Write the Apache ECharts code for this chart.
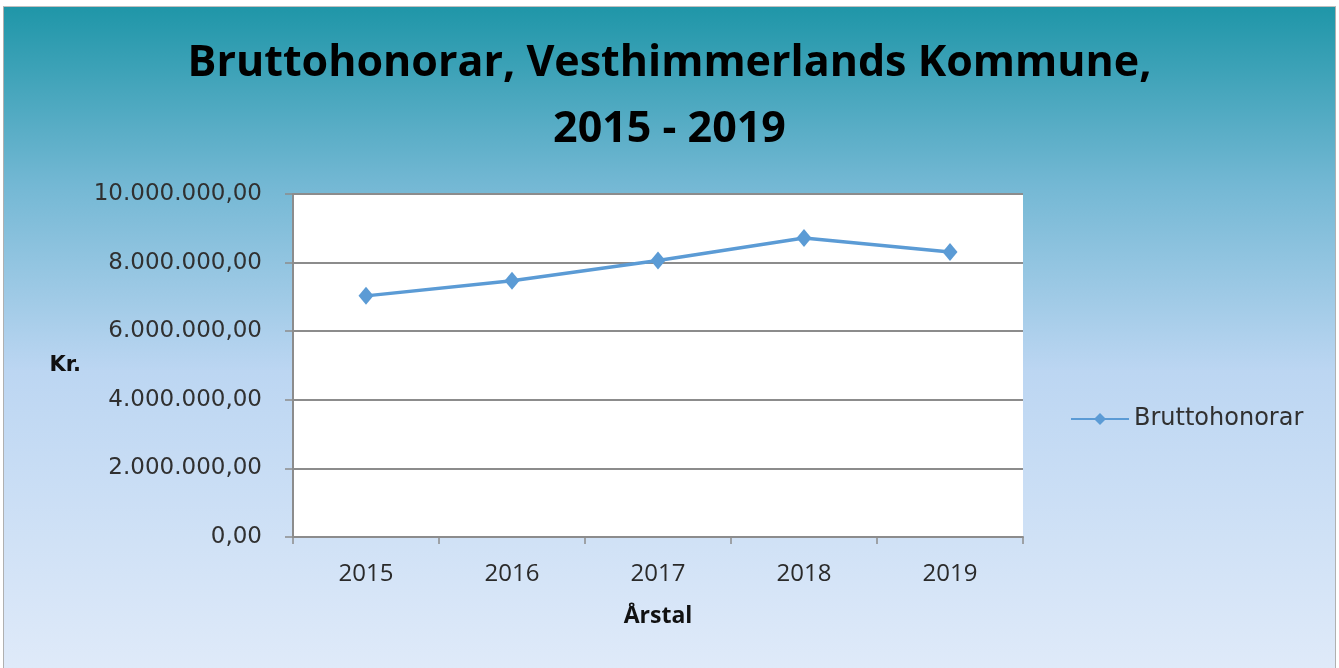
<!DOCTYPE html>
<html>
<head>
<meta charset="utf-8">
<script src="https://cdn.jsdelivr.net/npm/echarts@6/dist/echarts.min.js"></script>
<style>
  html, body { margin: 0; padding: 0; background: #fff; }
  #chart { position: absolute; left: 3px; top: 6px; width: 1331px; height: 662px; border-left: 1px solid #b0b0b0; border-right: 1px solid #b0b0b0; border-top: 1px solid #c0c0c0; }
</style>
</head>
<body>
<div id="chart"></div>
<script>
const years = ['2015', '2016', '2017', '2018', '2019']
const bruttohonorar = [7030000, 7470000, 8060000, 8720000, 8310000]
const yTicks = [0, 2000000, 4000000, 6000000, 8000000, 10000000]

function formatKr(v) {
  const whole = Math.round(v).toString().replace(/\B(?=(\d{3})+(?!\d))/g, '.')
  return whole + ',00'
}

const chart = echarts.init(document.getElementById('chart'))
const option = {
  backgroundColor: {
    type: 'linear', x: 0, y: 0, x2: 0, y2: 1,
    colorStops: [
      { offset: 0, color: '#1f96a8' },
      { offset: 0.27, color: '#74b8d4' },
      { offset: 0.55, color: '#bcd6f2' },
      { offset: 1, color: '#dfeaf9' }
    ]
  },
  textStyle: { fontFamily: 'DejaVu Sans, sans-serif' },
  title: {
    text: 'Bruttohonorar, Vesthimmerlands Kommune,\n2015 - 2019',
    left: 'center',
    top: 19,
    textStyle: {
      fontFamily: 'Open Sans, Noto Sans, sans-serif',
      fontSize: 43,
      fontWeight: 'bold',
      color: '#000',
      lineHeight: 66
    }
  },
  legend: {
    data: ['Bruttohonorar'],
    orient: 'vertical',
    left: 1061,
    top: 395,
    itemWidth: 58,
    itemHeight: 15,
    itemGap: 8,
    textStyle: { fontSize: 24, color: '#303030', fontFamily: 'DejaVu Sans, sans-serif' }
  },
  grid: {
    left: 289,
    top: 187,
    width: 730,
    height: 343,
    show: true,
    backgroundColor: '#fff',
    borderWidth: 0
  },
  xAxis: {
    type: 'category',
    data: years,
    boundaryGap: true,
    name: 'Årstal',
    nameLocation: 'middle',
    nameGap: 68,
    nameTextStyle: { fontSize: 23, fontWeight: 'bold', color: '#111', fontFamily: 'Open Sans, sans-serif' },
    axisLine: { lineStyle: { color: '#8c8c8c', width: 2 } },
    axisTick: { show: true, inside: false, length: 7, lineStyle: { color: '#8c8c8c', width: 1.5 } },
    axisLabel: { fontSize: 24, color: '#2a2a2a', margin: 25, fontFamily: 'Open Sans, sans-serif' },
    splitLine: { show: false }
  },
  yAxis: {
    type: 'value',
    min: 0,
    max: 10000000,
    interval: 2000000,
    name: 'Kr.',
    nameLocation: 'middle',
    nameRotate: 0,
    nameGap: 212,
    nameTextStyle: { fontSize: 21, fontWeight: 'bold', color: '#111' },
    axisLine: { show: true, lineStyle: { color: '#8c8c8c', width: 2 } },
    axisTick: { show: true, inside: false, length: 8, lineStyle: { color: '#8c8c8c', width: 1.5 } },
    axisLabel: {
      fontSize: 23,
      color: '#303030',
      margin: 31,
      formatter: v => yTicks.includes(v) ? formatKr(v) : ''
    },
    splitLine: { show: true, lineStyle: { color: '#8c8c8c', width: 2 } }
  },
  series: [
    {
      name: 'Bruttohonorar',
      type: 'line',
      data: bruttohonorar,
      symbol: 'diamond',
      symbolSize: [15, 18],
      lineStyle: { color: '#5b9bd5', width: 3.5 },
      itemStyle: { color: '#5b9bd5' }
    }
  ]
}
chart.setOption(option)
</script>
</body>
</html>
